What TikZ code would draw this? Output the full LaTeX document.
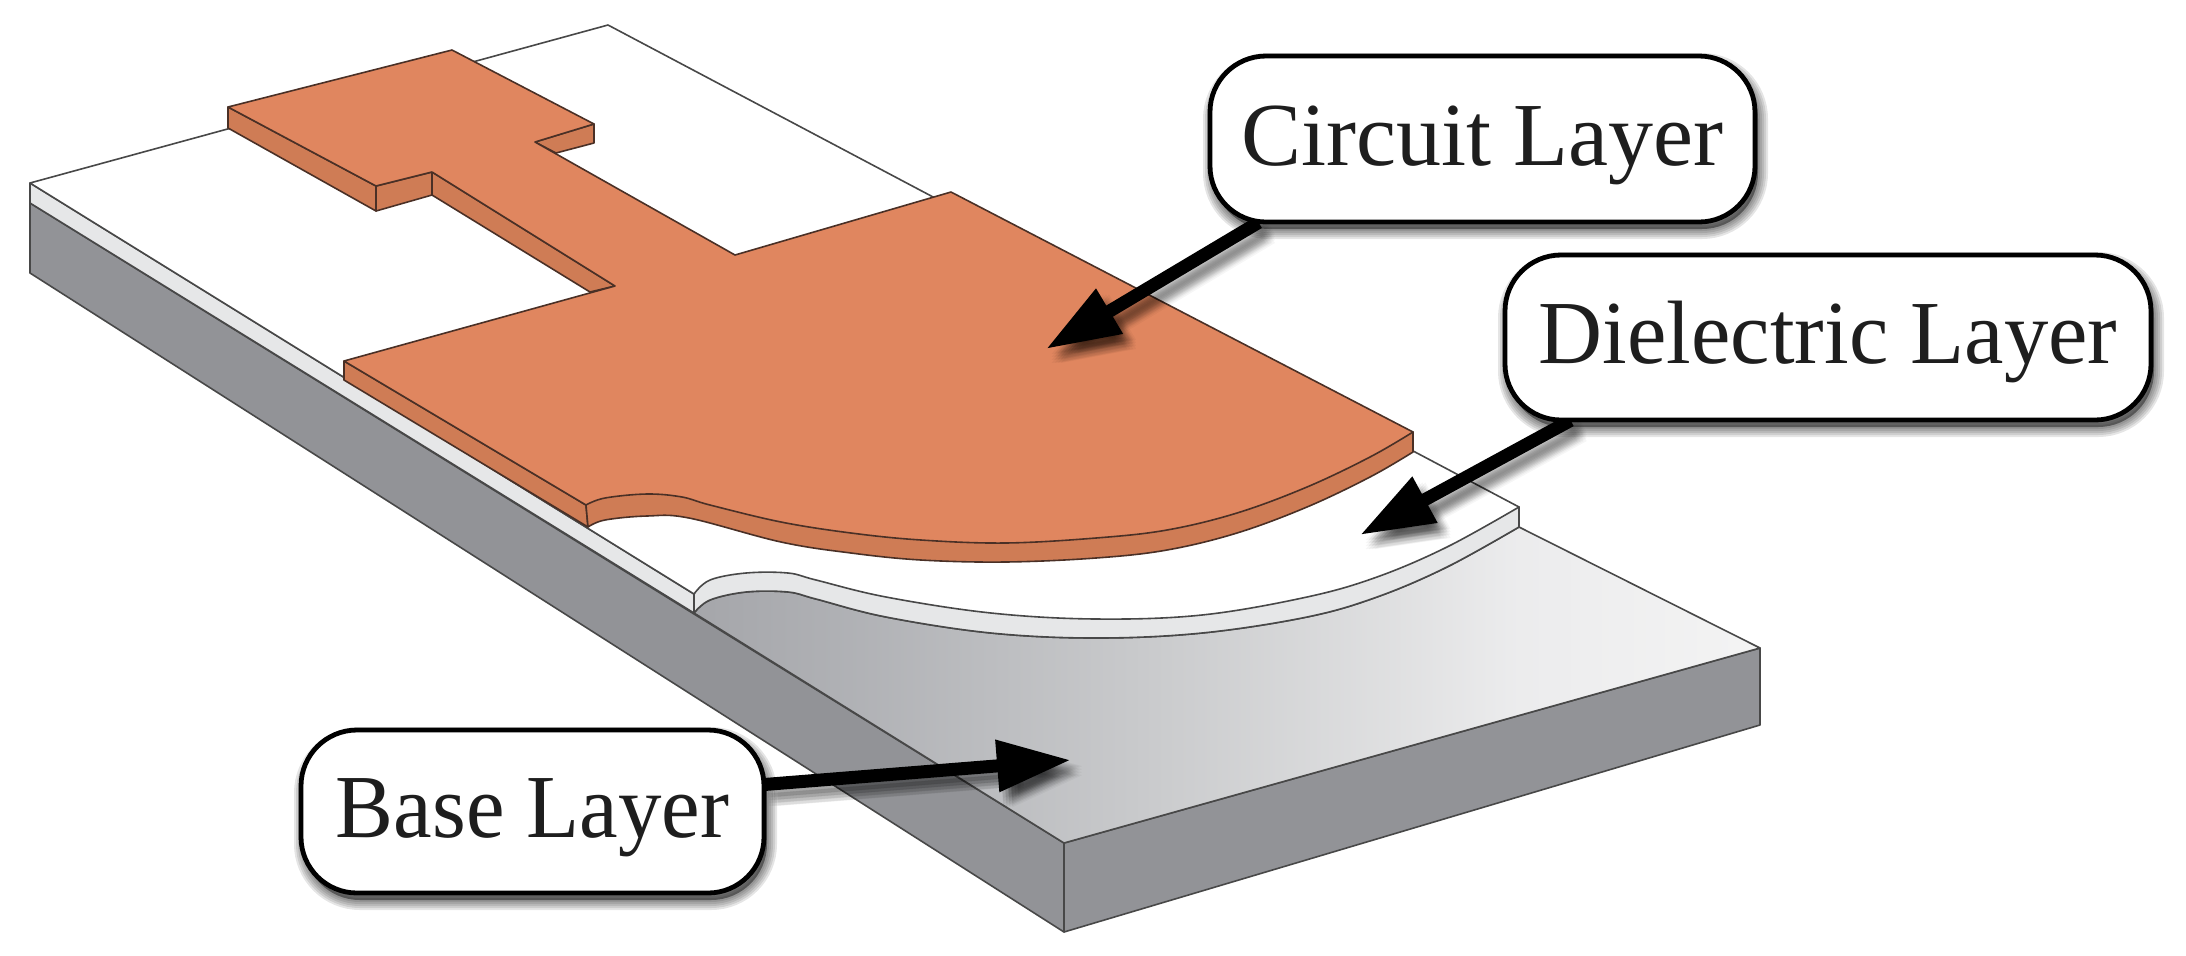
\documentclass[tikz,border=0pt]{standalone}
\usepackage{fontspec}
\setmainfont{Liberation Serif}
\usetikzlibrary{arrows.meta}
\definecolor{cuTop}{HTML}{E0865F}
\definecolor{cuSide}{HTML}{CF7C55}
\definecolor{cuLine}{HTML}{4A3026}
\definecolor{baseSide}{HTML}{929397}
\definecolor{dieSide}{HTML}{E6E7E8}
\definecolor{edgeLine}{HTML}{484848}
\definecolor{labelInk}{HTML}{1E1E1E}
\pgfdeclarehorizontalshading{basegrad}{100bp}{
  color(0bp)=(black!35!white);
  rgb(25bp)=(.647,.651,.667);
  rgb(32.3bp)=(.69,.695,.71);
  rgb(45.5bp)=(.784,.788,.796);
  rgb(58.1bp)=(.878,.88,.884);
  rgb(63.7bp)=(.925,.925,.93);
  rgb(75bp)=(.955,.955,.955);
  rgb(100bp)=(.955,.955,.955)}
\tikzset{
  edgeline/.style={draw=edgeLine,line width=.8pt,line join=round},
  cuface/.style={draw=cuLine,line width=.8pt,line join=round},
  softlayer/.style={preaction={draw=black,fill=black,draw opacity=.1,fill opacity=.1,line width=#1,transform canvas={xshift=1.5pt,yshift=-3.5pt}}},
  softshadow/.style={softlayer=10pt,softlayer=8pt,softlayer=6pt,softlayer=4pt,softlayer=2pt},
  callout/.style={draw=black,fill=white,line width=2.4pt,rounded corners=28pt,inner sep=0pt,
    text=labelInk,text height=36pt,text depth=10pt,align=center,softshadow,
    font=\fontsize{45}{50}\selectfont},
  leader/.style={draw=black,line width=6.5pt,-{Triangle[length=37pt,width=24.5pt]}},
  leadershadow/.style n args={2}{draw=black,draw opacity=.035,fill=black,fill opacity=.035,line width=6.5pt,-{Triangle[length=37pt,width=24.5pt]},transform canvas={xshift=#1pt,yshift=#2pt}},
}
\begin{document}
\begin{tikzpicture}[x=.5pt,y=-.5pt]
\useasboundingbox (0,0) rectangle (2186,955);
% base layer
\path[edgeline,fill=baseSide] (30,203) -- (1064,843) -- (1064,932) -- (30,273) -- cycle;
\path[edgeline,fill=baseSide] (1064,843) -- (1760,648) -- (1760,725) -- (1064,932) -- cycle;
\path[edgeline,shading=basegrad]
  plot[smooth,tension=.6] coordinates {(694,613) (710,600) (746,592) (788,592) (816,599) (886,617) (991,633) (1096,638) (1202,633) (1307,617) (1377,597) (1447,567) (1519,527)}
  -- (1760,648) -- (1064,843) -- cycle;
% dielectric layer
\path[edgeline,fill=dieSide] (30,183) -- (694,594) -- (694,613) -- (30,203) -- cycle;
\path[edgeline,fill=dieSide]
  plot[smooth,tension=.6] coordinates {(694,613) (710,600) (746,592) (788,592) (816,599) (886,617) (991,633) (1096,638) (1202,633) (1307,617) (1377,597) (1447,567) (1519,527)}
  -- (1519,507) -- (1100,500) -- (720,540) -- (694,594) -- cycle;
\path[edgeline,fill=white]
  plot[smooth,tension=.6] coordinates {(694,594) (710,580) (746,573) (788,573) (816,580) (886,597) (991,613) (1096,619) (1202,615) (1307,597) (1377,577) (1447,547) (1519,507)}
  -- (608,25) -- (30,183) -- cycle;
% circuit layer sides
\path[cuface,fill=cuSide] (228,107) -- (228,128) -- (376,211) -- (376,186) -- cycle;
\path[cuface,fill=cuSide] (376,186) -- (376,211) -- (432,195) -- (432,172) -- cycle;
\path[cuface,fill=cuSide] (432,172) -- (432,195) -- (590,292) -- (615,286) -- cycle;
\path[cuface,fill=cuSide] (535,142) -- (594,124) -- (594,143) -- (556,153) -- cycle;
\path[cuface,fill=cuSide] (344,361) -- (344,380) -- (588,527) -- (586,505) -- cycle;
\path[cuface,fill=cuSide]
  plot[smooth,tension=.6] coordinates {(588,527) (605,520) (647,516) (689,518) (781,542) (851,553) (921,560) (1005,562) (1096,558) (1167,550) (1237,533) (1307,507) (1370,477) (1413,452)}
  -- (1413,432) -- (1000,400) -- (620,470) -- (586,505) -- cycle;
% circuit layer top
\path[cuface,fill=cuTop]
  plot[smooth,tension=.6] coordinates {(586,505) (605,498) (647,494) (682,497) (710,505) (781,522) (851,533) (921,540) (1005,543) (1096,538) (1167,530) (1237,513) (1307,487) (1370,457) (1413,432)}
  -- (951,192) -- (735,255) -- (535,142) -- (594,124) -- (452,50) -- (228,107) -- (376,186) -- (432,172) -- (615,286) -- (344,361) -- cycle;
% call-outs
\coordinate (circuittip) at (1046,349);
\coordinate (dielectrictip) at (1360,535);
\coordinate (basetip) at (1071,760);
\node[minimum width=272.5pt,minimum height=83pt,inner sep=0pt] (circuit) at (1482.5,139) {};
\node[minimum width=323pt,minimum height=82.5pt,inner sep=0pt] (dielectric) at (1828,337.5) {};
\node[minimum width=231.5pt,minimum height=81.5pt,inner sep=0pt] (base) at (532.5,811.5) {};
\foreach \dx in {2,3.5,5,6.5}{\foreach \dy in {-3,-4.5,-6,-7.5}{
  \draw[leadershadow={\dx}{\dy}] ([xshift=24.5pt]circuit.south west) -- (circuittip);
  \draw[leadershadow={\dx}{\dy}] ([xshift=33pt]dielectric.south west) -- (dielectrictip);
  \draw[leadershadow={\dx}{\dy}] ([yshift=13.5pt]base.east) -- (basetip);
}}
\draw[leader] ([xshift=24.5pt]circuit.south west) -- (circuittip);
\draw[leader] ([xshift=33pt]dielectric.south west) -- (dielectrictip);
\draw[leader] ([yshift=13.5pt]base.east) -- (basetip);
\node[callout,minimum width=272.5pt,minimum height=83pt] (circuitlabel) at (circuit) {Circuit Layer};
\node[callout,minimum width=323pt,minimum height=82.5pt] (dielectriclabel) at (dielectric) {\scalebox{.985}[1]{Dielectric Layer}};
\node[callout,minimum width=231.5pt,minimum height=81.5pt] (baselabel) at (base) {\scalebox{.965}[1]{Base Layer}};
\end{tikzpicture}
\end{document}
